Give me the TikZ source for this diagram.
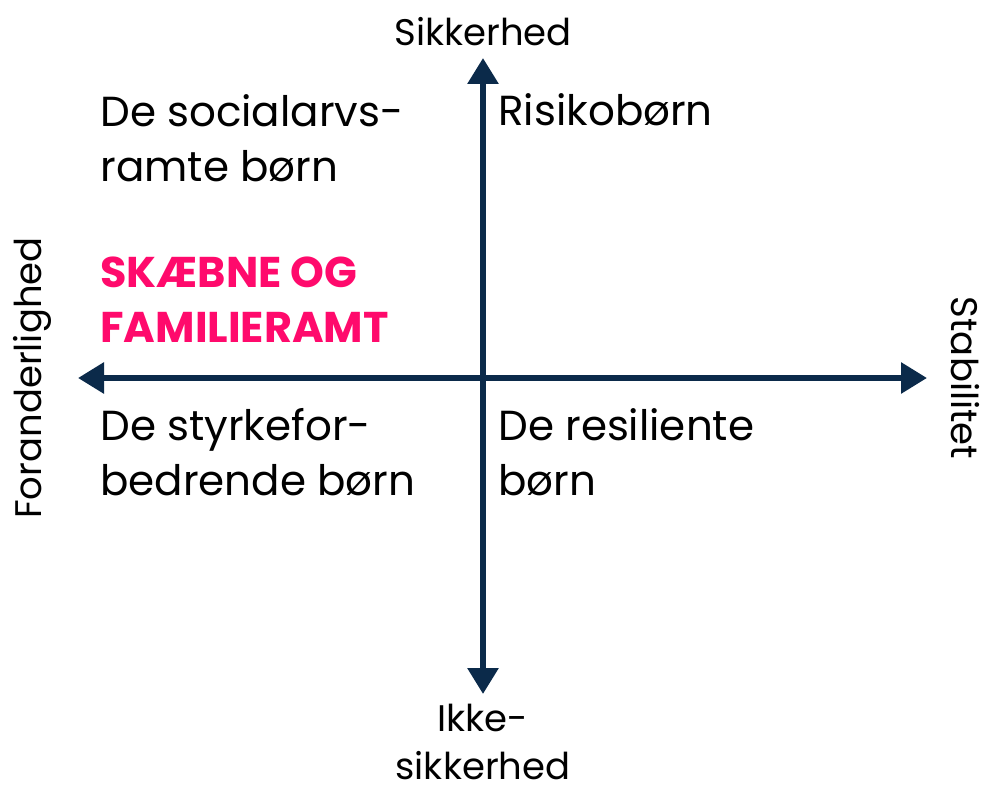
\documentclass[tikz,border=0pt]{standalone}
\usepackage{fontspec}
\setmainfont{Poppins}
\usetikzlibrary{arrows.meta}
\definecolor{navy}{HTML}{0B2A4A}
\definecolor{pink}{HTML}{FF0A6C}
\begin{document}
\begin{tikzpicture}[x=0.5pt,y=-0.5pt,
    akse/.style={navy,line width=3pt,-{Triangle[length=13pt,width=15pt]}},
    felt/.style={anchor=west,align=left,font=\fontsize{21}{27.5}\selectfont,inner sep=0pt},
    aksetekst/.style={font=\fontsize{18.5}{24}\selectfont,align=center,inner sep=0pt}]
    \useasboundingbox (0,0) rectangle (991,792);
    % Akserne
    \coordinate (midt) at (483,378);
    \coordinate (top) at (483,58);
    \coordinate (bund) at (483,694);
    \coordinate (venstre) at (78,378);
    \coordinate (hoejre) at (927,378);
    \draw[akse] (midt) -- (top);
    \draw[akse] (midt) -- (bund);
    \draw[akse] (midt) -- (venstre);
    \draw[akse] (midt) -- (hoejre);

    % Akse-tekster
    \node[aksetekst] (sikker) at (483,32) {Sikkerhed};
    \node[aksetekst] (ikkesikker) at (483,742) {Ikke-\\sikkerhed};
    \node[aksetekst,rotate=90] (foranderlig) at (32,378) {Foranderlighed};
    \node[aksetekst,rotate=-90] (stabil) at (965,378) {Stabilitet};

    % Felterne
    \node[felt] (socialarv) at (100,138) {De socialarvs-\\ramte børn};
    \node[felt] (risiko) at (498,110) {Risikobørn};
    \node[felt,text=pink,font=\fontsize{21.5}{27.5}\selectfont\bfseries] (skaebne) at (100,300) {SKÆBNE OG\\FAMILIERAMT};
    \node[felt] (styrke) at (100,452) {De styrkefor-\\bedrende børn};
    \node[felt] (resilient) at (498,452) {De resiliente\\børn};
\end{tikzpicture}
\end{document}
